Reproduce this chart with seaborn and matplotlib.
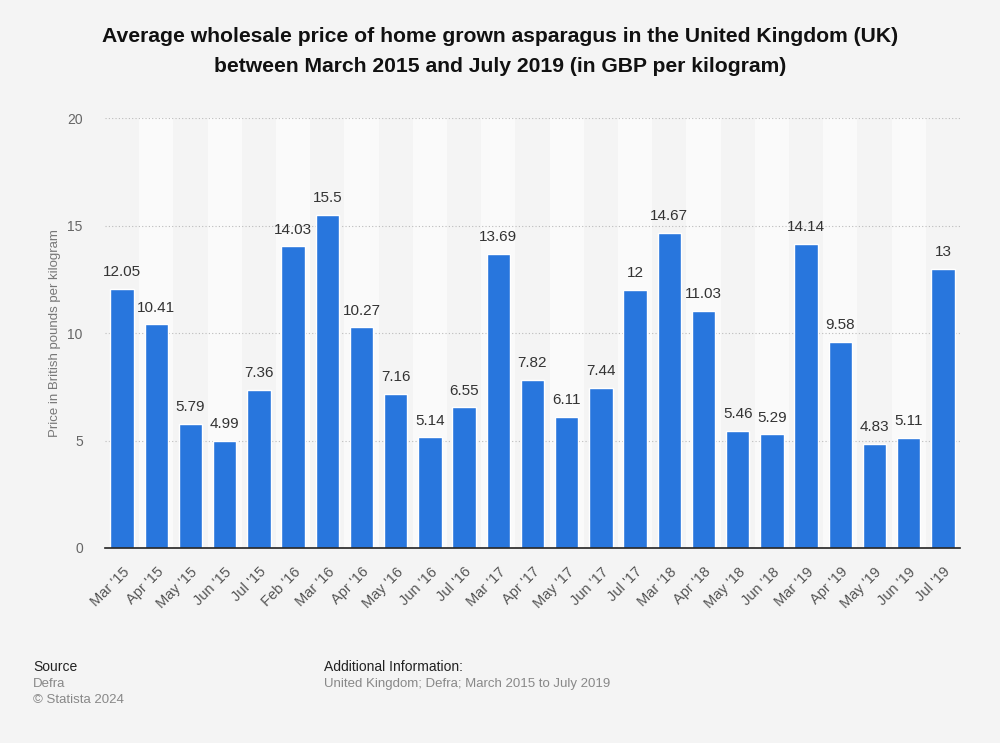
import matplotlib
matplotlib.use('Agg')
import matplotlib.pyplot as plt
import seaborn as sns
import pandas as pd

months = ["Mar '15", "Apr '15", "May '15", "Jun '15", "Jul '15", "Feb '16", "Mar '16",
          "Apr '16", "May '16", "Jun '16", "Jul '16", "Mar '17", "Apr '17", "May '17",
          "Jun '17", "Jul '17", "Mar '18", "Apr '18", "May '18", "Jun '18", "Mar '19",
          "Apr '19", "May '19", "Jun '19", "Jul '19"]
prices = [12.05, 10.41, 5.79, 4.99, 7.36, 14.03, 15.5, 10.27, 7.16, 5.14, 6.55, 13.69,
          7.82, 6.11, 7.44, 12, 14.67, 11.03, 5.46, 5.29, 14.14, 9.58, 4.83, 5.11, 13]
price_labels = ["12.05", "10.41", "5.79", "4.99", "7.36", "14.03", "15.5", "10.27", "7.16",
                "5.14", "6.55", "13.69", "7.82", "6.11", "7.44", "12", "14.67", "11.03",
                "5.46", "5.29", "14.14", "9.58", "4.83", "5.11", "13"]
y_ticks = [0, 5, 10, 15, 20]

df = pd.DataFrame({'month': months, 'price': prices})

sns.set_theme(style='white')
plt.rcParams['font.family'] = ['Liberation Sans', 'DejaVu Sans']

bg = '#f4f4f4'
fig = plt.figure(figsize=(10, 7.43), dpi=100, facecolor=bg)
ax = fig.add_axes([0.105, 0.2625, 0.855, 0.5785])
ax.set_facecolor(bg)

# alternating light column bands
for i in range(len(months)):
    if i % 2 == 1:
        ax.axvspan(i - 0.5, i + 0.5, color='#fafafa', zorder=0, lw=0)

sns.barplot(data=df, x='month', y='price', color='#2876dd', saturation=1,
            width=0.68, ax=ax, zorder=2)

for i, (v, lab) in enumerate(zip(prices, price_labels)):
    ax.text(i, v + 0.45, lab, ha='center', va='bottom', fontsize=11, color='#333333', zorder=3)

ax.set_xlim(-0.5, len(months) - 0.5)
ax.set_ylim(0, 20)
ax.set_yticks(y_ticks)
ax.set_yticklabels([str(t) for t in y_ticks], fontsize=10, color='#666666')
ax.tick_params(axis='y', length=0, pad=16)
ax.tick_params(axis='x', length=0, pad=12)
ax.set_xticks(range(len(months)))
ax.set_xticklabels(months, rotation=45, ha='right', rotation_mode='anchor',
                   fontsize=10.5, color='#555555')
for t in y_ticks[1:]:
    ax.axhline(t, color='#bbbbbb', linestyle=(0, (1, 2)), linewidth=0.8, zorder=1)

for s in ['top', 'right', 'left']:
    ax.spines[s].set_visible(False)
ax.spines['bottom'].set_color('#222222')
ax.spines['bottom'].set_linewidth(1.2)
ax.spines['bottom'].set_zorder(4)

ax.set_xlabel('')
ax.set_ylabel('Price in British pounds per kilogram', fontsize=9.5, color='#777777')
ax.yaxis.set_label_coords(-0.052, 0.5)

fig.text(0.5, 0.931, 'Average wholesale price of home grown asparagus in the United Kingdom (UK)\n'
         'between March 2015 and July 2019 (in GBP per kilogram)',
         ha='center', va='center', fontsize=15.2, fontweight='bold', color='#111111',
         linespacing=1.75)

fig.text(0.033, 0.097, 'Source', fontsize=10, color='#222222')
fig.text(0.033, 0.075, 'Defra', fontsize=9.5, color='#888888')
fig.text(0.033, 0.054, '\u00a9 Statista 2024', fontsize=9.5, color='#888888')
fig.text(0.324, 0.097, 'Additional Information:', fontsize=10, color='#222222')
fig.text(0.324, 0.075, 'United Kingdom; Defra; March 2015 to July 2019', fontsize=9.5, color='#888888')

fig.savefig('out.png', dpi=100, facecolor=bg)
